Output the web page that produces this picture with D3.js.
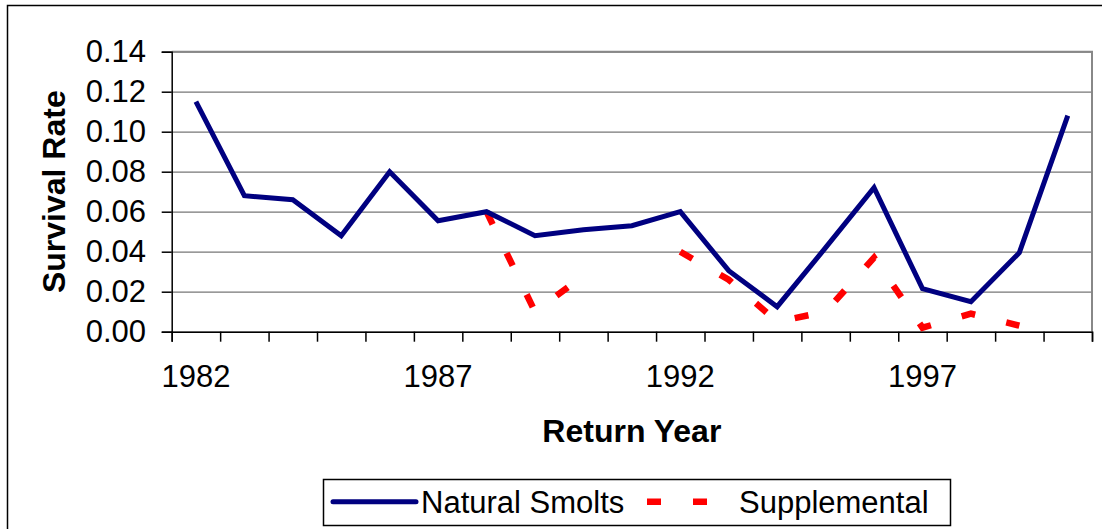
<!DOCTYPE html>
<html>
<head>
<meta charset="utf-8">
<script src="https://cdn.jsdelivr.net/npm/d3@7"></script>
<style>
  body { margin: 0; background: #fff; }
  text { font-family: "Liberation Sans", Arial, sans-serif; }
</style>
</head>
<body>
<div id="canvas"></div>
<script>
// return years on the category axis
const years = d3.range(1982, 2001);
const yearLabels = ["1982", "1987", "1992", "1997"];

// survival rates (null = no point)
const naturalSmolts = [0.115, 0.068, 0.066, 0.048, 0.080, 0.0555, 0.060, 0.048, 0.051, 0.053,
  0.060, 0.0305, 0.0125, 0.042, 0.072, 0.0215, 0.015, 0.0395, 0.108];
const supplemental = [null, null, null, null, null, null, 0.060, 0.010, 0.028, null,
  0.040, 0.026, 0.005, 0.010, 0.037, 0.002, 0.009, 0.003, null];

const yTicks = [0, 0.02, 0.04, 0.06, 0.08, 0.10, 0.12, 0.14];

const width = 1102;
const height = 529;
const margin = { top: 51.7, left: 171.7, right: 10, bottom: 197.3 };
const iwidth = 1092 - margin.left;
const iheight = 331.7 - margin.top;

const svg = d3.select("#canvas").append("svg")
  .attr("width", width)
  .attr("height", height);

// outer chart border (runs off the right and bottom)
svg.append("rect")
  .attr("x", 7.5).attr("y", 5.5)
  .attr("width", 1200).attr("height", 600)
  .attr("fill", "none").attr("stroke", "#000").attr("stroke-width", 1.5);

const g = svg.append("g")
  .attr("transform", `translate(${margin.left},${margin.top})`);

const x = d3.scaleBand().domain(years).range([0, iwidth]).padding(0);
const xi = d3.scaleLinear().domain([0, years.length]).range([0, iwidth]);
const y = d3.scaleLinear().domain([0, 0.14]).range([iheight, 0]);

// gridlines
g.append("g")
  .call(d3.axisLeft(y).tickValues(yTicks).tickSize(-iwidth).tickFormat(""))
  .call(s => s.select(".domain").remove())
  .call(s => s.selectAll("line").attr("stroke", "#777").attr("stroke-width", 1.3));

// plot area top / right edge
g.append("path")
  .attr("d", `M0,0H${iwidth}V${iheight}`)
  .attr("fill", "none").attr("stroke", "#888").attr("stroke-width", 2);

// y axis
g.append("g")
  .call(d3.axisLeft(y).tickValues(yTicks).tickSize(10).tickPadding(15.7)
    .tickFormat(d3.format(".2f")))
  .call(s => s.selectAll("line, path").attr("stroke", "#000").attr("stroke-width", 1.5))
  .call(s => s.selectAll("text").attr("font-size", 31).attr("fill", "#000")
    .attr("font-family", "Liberation Sans, Arial, sans-serif"));

// x axis: ticks on category boundaries
g.append("g")
  .attr("transform", `translate(0,${iheight})`)
  .call(d3.axisBottom(xi).tickValues(d3.range(years.length + 1)).tickSize(10).tickFormat(""))
  .call(s => s.selectAll("line, path").attr("stroke", "#000").attr("stroke-width", 1.5));

// x labels at category centres
g.append("g")
  .attr("transform", `translate(0,${iheight})`)
  .call(d3.axisBottom(x).tickSize(0).tickPadding(33)
    .tickFormat(d => yearLabels.includes(String(d)) ? String(d) : ""))
  .call(s => s.select(".domain").remove())
  .call(s => s.selectAll("text").attr("font-size", 31).attr("fill", "#000")
    .attr("font-family", "Liberation Sans, Arial, sans-serif"));

const cx = (i) => x(years[i]) + x.bandwidth() / 2;

const line = d3.line()
  .defined(d => d != null)
  .x((d, i) => cx(i))
  .y(d => y(d));

g.append("path")
  .datum(supplemental)
  .attr("d", line)
  .attr("fill", "none")
  .attr("stroke", "#ff0000")
  .attr("stroke-width", 6.5)
  .attr("stroke-dasharray", "14,32")
  .attr("stroke-linejoin", "miter");

g.append("path")
  .datum(naturalSmolts)
  .attr("d", line)
  .attr("fill", "none")
  .attr("stroke", "#000080")
  .attr("stroke-width", 5)
  .attr("stroke-linejoin", "miter");

// axis titles
svg.append("text")
  .attr("transform", `translate(65,${margin.top + iheight / 2}) rotate(-90)`)
  .attr("text-anchor", "middle")
  .attr("font-size", 32).attr("font-weight", "bold")
  .text("Survival Rate");

svg.append("text")
  .attr("x", margin.left + iwidth / 2).attr("y", 442)
  .attr("text-anchor", "middle")
  .attr("font-size", 32).attr("font-weight", "bold")
  .text("Return Year");

// legend
const lg = svg.append("g");
lg.append("rect")
  .attr("x", 323.5).attr("y", 479.5).attr("width", 627).attr("height", 46)
  .attr("fill", "#fff").attr("stroke", "#000").attr("stroke-width", 1.5);
lg.append("line")
  .attr("x1", 333).attr("x2", 416).attr("y1", 501.7).attr("y2", 501.7)
  .attr("stroke", "#000080").attr("stroke-width", 5).attr("stroke-linecap", "round");
lg.append("text").attr("x", 421).attr("y", 513).attr("font-size", 31).text("Natural Smolts");
lg.append("line")
  .attr("x1", 647).attr("x2", 708).attr("y1", 501.7).attr("y2", 501.7)
  .attr("stroke", "#ff0000").attr("stroke-width", 6.5).attr("stroke-dasharray", "14,32");
lg.append("text").attr("x", 739).attr("y", 513).attr("font-size", 31).text("Supplemental");
</script>
</body>
</html>
